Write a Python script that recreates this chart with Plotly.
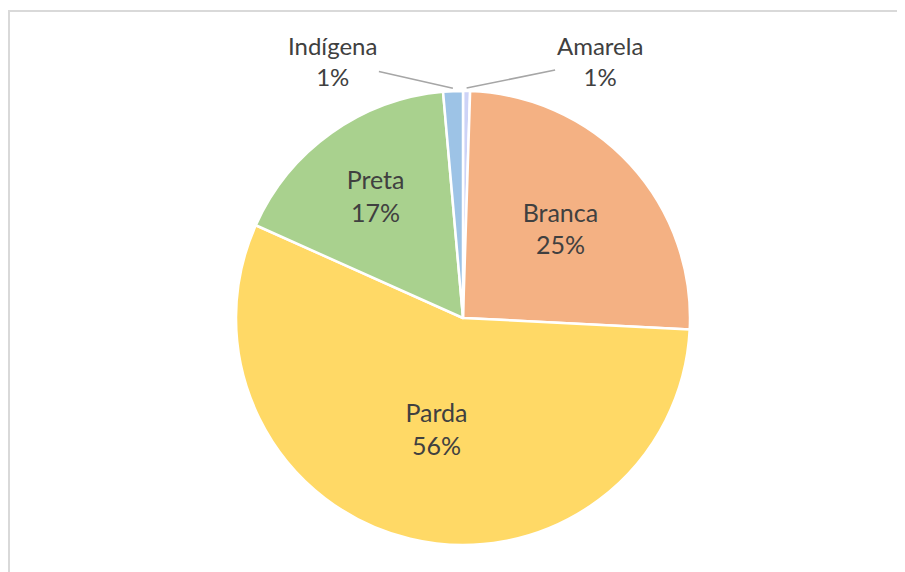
import math
import plotly.graph_objects as go

# Data (clockwise from 12 o'clock)
categories = ["Amarela", "Branca", "Parda", "Preta", "Indígena"]
values = [0.5, 25.3, 55.9, 16.9, 1.4]
display_pct = ["1%", "25%", "56%", "17%", "1%"]
colors = ["#CDD3F7", "#F4B183", "#FFD966", "#A9D18E", "#9DC3E6"]

W, H = 905, 572
# page body has an 8px margin; geometry below is in figure pixels
cx, cy, R = 455, 310, 227

inside = [v >= 5 for v in values]
texts = [f"{c}<br>{p}" if ins else "" for c, p, ins in zip(categories, display_pct, inside)]

fig = go.Figure(go.Pie(
    labels=categories,
    values=values,
    sort=False,
    direction="clockwise",
    rotation=0,
    marker=dict(colors=colors, line=dict(color="white", width=2.5)),
    text=texts,
    textinfo="text",
    textposition="inside",
    insidetextorientation="horizontal",
    textfont=dict(family="Lato", size=25, color="#404040"),
    domain=dict(x=[(cx - R) / W, (cx + R) / W], y=[(H - cy - R) / H, (H - cy + R) / H]),
    showlegend=False,
    hoverinfo="label+percent",
))

# Outer labels with leader lines for small slices
total = sum(values)
cum = 0
offsets = {"Amarela": (133, -27), "Indígena": (-120, -27)}
annotations = []
for c, v, p, ins in zip(categories, values, display_pct, inside):
    mid = (cum + v / 2) / total * 2 * math.pi
    cum += v
    if ins:
        continue
    rr = R + 3
    tx = cx + rr * math.sin(mid)
    ty = cy - rr * math.cos(mid)
    ax, ay = offsets[c]
    annotations.append(dict(
        x=tx / W, y=1 - ty / H, xref="paper", yref="paper",
        text=f"{c}<br>{p}", showarrow=True, arrowhead=0, arrowwidth=1.5,
        arrowcolor="#A6A6A6", ax=ax, ay=ay, align="center",
        font=dict(family="Lato", size=24, color="#404040"),
    ))

fig.update_layout(
    width=W, height=H,
    margin=dict(l=0, r=0, t=0, b=0),
    paper_bgcolor="white",
    annotations=annotations,
    shapes=[dict(type="rect", xref="paper", yref="paper",
                 x0=1 / W, x1=1.1, y0=-0.1, y1=1 - 3 / H,
                 line=dict(color="#D9D9D9", width=2))],
)

fig.write_html("out.html")
